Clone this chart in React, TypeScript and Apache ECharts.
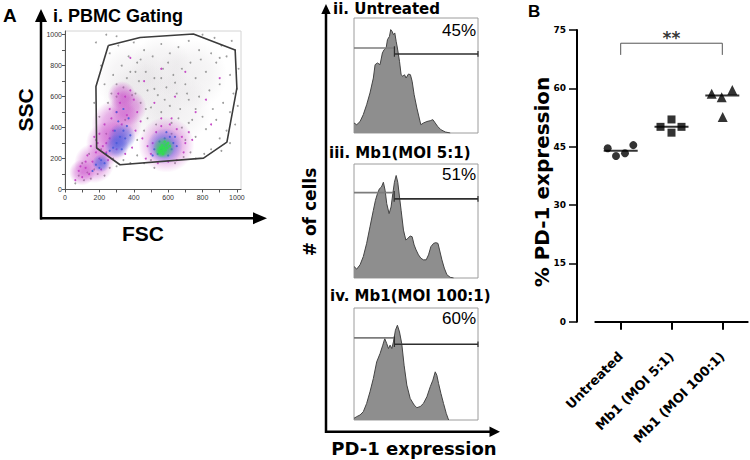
import React, { useEffect, useRef } from 'react';
import * as echarts from 'echarts';

// ---------- Panel A (i): FSC / SSC dot plot ----------
const fscTicks = [0, 100, 200, 300, 400, 500, 600, 700, 800, 900, 1000];
const fscLabels = [0, 200, 400, 600, 800, 1000];
const gateVertices = [
  [252, 930], [437, 982], [747, 1005], [990, 902], [1000, 655], [942, 306],
  [806, 203], [320, 160], [184, 268], [180, 666], [252, 930],
];
const grayEvents = [
  [60, 40], [80, 90], [110, 60], [130, 110], [150, 70], [170, 130], [100, 170], [140, 230], [190, 100], [230, 90],
  [260, 140], [280, 200], [210, 260], [180, 320], [240, 360], [300, 150], [340, 190], [380, 170], [420, 220], [460, 170],
  [500, 190], [520, 140], [640, 170], [690, 210], [730, 240], [760, 200], [810, 230], [850, 260], [900, 330], [940, 380],
  [700, 320], [760, 340], [820, 390], [880, 450], [960, 500], [420, 320], [460, 380], [480, 460], [530, 420], [620, 430],
  [680, 400], [740, 450], [800, 470], [860, 520], [920, 560], [980, 620], [250, 560], [300, 600], [340, 660], [390, 610],
  [440, 560], [500, 530], [560, 500], [610, 540], [670, 520], [720, 580], [780, 600], [840, 640], [900, 680], [960, 740],
  [230, 680], [280, 740], [330, 800], [380, 760], [430, 700], [480, 640], [540, 610], [590, 660], [650, 620], [700, 680],
  [760, 720], [820, 760], [880, 820], [940, 860], [990, 900], [260, 880], [310, 930], [370, 860], [420, 820], [470, 760],
  [520, 720], [570, 780], [630, 740], [680, 780], [730, 820], [790, 840], [850, 880], [910, 930], [970, 960], [300, 990],
  [400, 950], [460, 900], [510, 860], [560, 940], [610, 880], [660, 920], [720, 960], [800, 1000], [870, 980], [1010, 780],
  [1000, 650], [1005, 540], [990, 420], [960, 300], [910, 250], [200, 470], [170, 560], [210, 800], [180, 950], [240, 1000],
  [350, 450], [410, 620], [470, 520], [520, 650], [580, 580], [640, 690], [710, 620], [760, 520], [660, 460], [360, 720],
  [300, 680], [440, 840], [600, 820], [780, 900], [900, 850], [560, 720], [620, 360], [720, 430], [270, 620], [410, 760],
];
const magentaEvents = [
  [60, 60], [80, 120], [100, 80], [120, 140], [140, 100], [160, 180], [130, 220], [180, 240], [150, 280], [200, 200],
  [220, 280], [240, 240], [260, 330], [200, 360], [230, 420], [270, 460], [300, 500], [320, 560], [350, 600], [380, 640],
  [400, 580], [360, 480], [420, 500], [440, 440], [410, 380], [450, 330], [390, 270], [350, 230], [300, 260], [280, 380],
  [330, 420], [260, 520], [310, 620], [240, 300], [190, 300], [170, 340], [120, 180], [90, 150], [210, 130], [250, 190],
  [500, 230], [510, 300], [530, 370], [560, 410], [610, 420], [650, 390], [680, 340], [700, 300], [690, 240], [650, 190],
  [600, 180], [540, 170], [480, 280], [720, 370], [620, 460], [470, 200], [560, 460], [740, 320],
  [520, 560], [640, 600], [760, 500], [460, 700], [820, 580], [560, 780], [700, 760], [900, 720], [380, 850], [850, 420],
];
const blueEvents = [
  [300, 300], [320, 340], [340, 380], [360, 410], [310, 440], [350, 330], [280, 270], [330, 260], [370, 460], [290, 380],
  [240, 230], [210, 190], [180, 160], [200, 140], [230, 170], [260, 250], [380, 350], [300, 500], [340, 520], [160, 120],
  [540, 230], [560, 260], [580, 330], [610, 340], [630, 300], [600, 220], [550, 310], [620, 260], [520, 260], [590, 370],
  [640, 340], [510, 220], [650, 280],
];
const greenEvents = [
  [560, 250], [575, 270], [590, 290], [570, 230], [550, 240], [600, 300], [585, 255], [565, 285], [580, 310], [595, 270],
  [555, 270], [610, 280],
];
// density cores of the populations
const grayCores = [[450, 560], [650, 520], [380, 720], [740, 740], [560, 800]];
const grayCoreSize = [80, 70, 70, 70, 60];
const magentaCores = [[300, 420], [250, 300], [370, 530], [330, 610], [170, 170], [100, 110], [590, 290]];
const magentaCoreSize = [50, 44, 36, 28, 40, 26, 56];
const blueCores = [[330, 340], [300, 280], [210, 170], [580, 280]];
const blueCoreSize = [28, 24, 18, 36];
const greenCores = [[575, 270], [560, 245]];
const greenCoreSize = [22, 12];

// ---------- Panel A (ii-iv): PD-1 histograms ----------
const histTitles = ['ii. Untreated', 'iii. Mb1(MOI 5:1)', 'iv. Mb1(MOI 100:1)'];
const gatePercents = [45, 51, 60];
const untreatedHist = [
  [0, 8.7], [2.2, 7.2], [4.9, 10], [7.5, 16], [10.2, 24.6], [12.9, 34.8], [15.6, 47.8], [17, 59.4], [18.9, 60.9], [21, 59.4],
  [22.9, 69.6], [24.3, 72.5], [25.9, 73.9], [27, 81.2], [28.6, 84], [29.6, 89.9], [30.7, 88.4], [31.8, 85.5], [32.9, 87], [34, 79.7],
  [35, 73.9], [36.7, 62.3], [38, 50.7], [39.4, 49.3], [40.7, 50.7], [42, 47.8], [43.9, 51.3], [45.5, 50.7], [46.9, 44.9], [48.5, 33.3],
  [50.7, 21.7], [52.6, 13], [53.9, 7.2], [56, 8.7], [58.8, 10], [61.5, 10.7], [63.6, 11.6], [65.5, 8.7], [67.4, 5.8], [70, 2.9],
  [73.6, 0.9], [77.6, 0],
];
const moi5Hist = [
  [0, 10.1], [2.2, 7.8], [4.9, 11.6], [7.5, 18.8], [10.2, 30.4], [12.9, 44.9], [15.6, 59.4], [17.3, 68.1], [18.9, 73.9], [20.5, 78.3],
  [22.1, 79.7], [23.7, 84], [25.1, 76.8], [26.4, 65.2], [28.3, 56.5], [29.9, 62.3], [31.3, 73.9], [32.6, 84], [34, 89.9], [35.3, 84],
  [36.7, 71], [38, 59.4], [39.9, 42], [41.8, 33.3], [43.4, 34.8], [45.3, 36.8], [46.9, 36.2], [48.5, 29], [50.1, 24.6], [52, 20.3],
  [53.9, 17.4], [56, 15.9], [58.2, 15.9], [60.1, 20.3], [62, 27.5], [64.2, 30.4], [66, 31], [67.7, 30.4], [69, 24.6], [70.9, 15.9],
  [72.8, 8.7], [74.9, 2.9], [77.6, 0.6], [80.3, 0],
];
const moi100Hist = [
  [0, 1.5], [2.2, 3], [4.9, 4.5], [7.5, 7.4], [10.2, 14.8], [12.9, 25.2], [15.6, 37.1], [18.3, 51.9], [21, 59.3], [23.2, 66.8],
  [24.8, 72.7], [26.4, 68.2], [27.8, 63.8], [29.1, 66.8], [30.5, 63.8], [31.8, 69.7], [33.4, 80.1], [35, 84.6], [36.7, 78.6], [38.5, 68.2],
  [40.4, 48.9], [42.6, 31.2], [45.3, 19.3], [48.5, 13.4], [50.7, 11], [53.4, 12], [56, 14.8], [58.8, 20.8], [61.5, 29.7], [63.6, 35.6],
  [65.5, 43], [66.8, 40], [68.2, 32.6], [70.1, 23.7], [72.2, 14.8], [74.4, 5.9], [76.3, 0],
];
const gateX = [32.6, 32.4, 32.6];
const gateLeftLevel = [73.9, 74.9, 73.3];
const gateRightLevel = [68.7, 69.4, 67.7];

// ---------- Panel B: % PD-1 expression ----------
const categories = ['Untreated', 'Mb1 (MOI 5:1)', 'Mb1 (MOI 100:1)'];
const untreatedPD1 = [44.6, 42.6, 43.3, 45.4];
const moi5PD1 = [50.1, 52.0, 48.6, 50.1];
const moi100PD1 = [58.6, 57.7, 59.6, 52.6];
const bracketBase = 68.6;
const bracketTop = 71.6;
const starLevel = 73.0;
const significance = '**';

// horizontal jitter of the dots (pixels)
const untreatedJitter = [-13, -4.7, 4.3, 12.6];
const moi5Jitter = [-11, 0, 0, 10];
const moi100Jitter = [-10.6, -0.6, 10, 0.4];

const median = (a: number[]) => {
  const s = [...a].sort((x, y) => x - y);
  const m = Math.floor(s.length / 2);
  return s.length % 2 ? s[m] : (s[m - 1] + s[m]) / 2;
};

const DJ = 'DejaVu Sans';
const LS = 'Liberation Sans';

export default function App() {
  const ref = useRef<HTMLDivElement>(null);
  useEffect(() => {
    if (!ref.current) return;
    const chart = echarts.init(ref.current, undefined, { renderer: 'svg' });

    const radial = (rgb: string, a: number) =>
      new echarts.graphic.RadialGradient(0.5, 0.5, 0.5, [
        { offset: 0, color: `rgba(${rgb},${a})` },
        { offset: 0.55, color: `rgba(${rgb},${a * 0.65})` },
        { offset: 1, color: `rgba(${rgb},0)` },
      ]);

    const histData = [untreatedHist, moi5Hist, moi100Hist];
    const histTop = [18, 164, 308];
    const histHeight = [115, 114, 112];

    const grids: any[] = [
      { left: 65, top: 31, width: 176, height: 158.5, show: true, borderColor: '#d4d4d4', borderWidth: 1 },
      ...histTop.map((t, i) => ({
        left: 354, top: t, width: 124, height: histHeight[i], show: true, borderColor: '#9c9c9c', borderWidth: 1,
      })),
      { left: 595.3, top: 30, width: 152.4, height: 291.7, show: false },
    ];

    const flowAxis = (isX: boolean) => ({
      gridIndex: 0, type: 'value', min: 0, max: 1024,
      axisLine: { show: true, lineStyle: { color: '#555', width: 1 } },
      axisTick: { show: true, customValues: fscTicks, length: 3, lineStyle: { color: '#555', width: 1 } },
      axisLabel: {
        customValues: fscLabels, fontSize: 7, color: '#333', fontFamily: LS, margin: isX ? 4 : 3,
        formatter: (v: number) => String(v),
      },
      splitLine: { show: false },
    });

    const xAxes: any[] = [
      flowAxis(true),
      ...[1, 2, 3].map((g) => ({ gridIndex: g, type: 'value', min: 0, max: 100, show: false, splitLine: { show: false } })),
      {
        gridIndex: 4, type: 'category', data: categories, offset: 25.3,
        axisLine: { show: true, lineStyle: { color: '#000', width: 2 } },
        axisTick: { show: true, alignWithLabel: true, length: 8, lineStyle: { color: '#000', width: 2 } },
        axisLabel: { rotate: 45, interval: 0, fontSize: 13, fontWeight: 'bold', fontFamily: DJ, color: '#000', margin: 7 },
        splitLine: { show: false },
      },
    ];
    const yAxes: any[] = [
      flowAxis(false),
      ...[1, 2, 3].map((g) => ({ gridIndex: g, type: 'value', min: 0, max: 100, show: false, splitLine: { show: false } })),
      {
        gridIndex: 4, type: 'value', min: 0, max: 75, interval: 15, offset: 18.3,
        axisLine: { show: true, lineStyle: { color: '#000', width: 2 } },
        axisTick: { show: true, length: 8, lineStyle: { color: '#000', width: 1.5 } },
        axisLabel: { fontSize: 9, fontWeight: 'bold', fontFamily: DJ, color: '#000', margin: 11 },
        splitLine: { show: false },
      },
    ];

    const series: any[] = [];
    // --- dot plot
    const cores = (pts: number[][], sizes: number[], rgb: string, a: number) => ({
      type: 'scatter', xAxisIndex: 0, yAxisIndex: 0, silent: true,
      data: pts.map((p, i) => ({ value: p, symbolSize: sizes[i], itemStyle: { color: radial(rgb, a) } })),
    });
    series.push(cores(grayCores, grayCoreSize, '150,140,150', 0.16));
    series.push({
      type: 'scatter', xAxisIndex: 0, yAxisIndex: 0, symbolSize: 1.9, silent: true,
      itemStyle: { color: '#8c8c8c', opacity: 0.85 }, data: grayEvents,
    });
    series.push(cores(magentaCores, magentaCoreSize, '195,55,195', 0.7));
    series.push({
      type: 'scatter', xAxisIndex: 0, yAxisIndex: 0, symbolSize: 2, silent: true,
      itemStyle: { color: '#c23cc2', opacity: 0.9 }, data: magentaEvents,
    });
    series.push(cores(blueCores, blueCoreSize, '70,95,225', 0.85));
    series.push({
      type: 'scatter', xAxisIndex: 0, yAxisIndex: 0, symbolSize: 2.2, silent: true,
      itemStyle: { color: '#4a5ad8', opacity: 0.9 }, data: blueEvents,
    });
    series.push(cores(greenCores, greenCoreSize, '40,225,70', 1));
    series.push({
      type: 'scatter', xAxisIndex: 0, yAxisIndex: 0, symbolSize: 2.6, silent: true,
      itemStyle: { color: '#2ee04a' }, data: greenEvents,
    });
    series.push({
      type: 'line', xAxisIndex: 0, yAxisIndex: 0, data: gateVertices, symbol: 'none', silent: true,
      lineStyle: { color: '#3c3c3c', width: 1.6 }, z: 5,
    });

    // --- histograms
    histData.forEach((d, i) => {
      const g = i + 1;
      series.push({
        type: 'line', xAxisIndex: g, yAxisIndex: g, data: d, symbol: 'none', silent: true,
        lineStyle: { color: '#444', width: 1 }, areaStyle: { color: '#8e8e8e', opacity: 1 },
      });
      series.push({
        type: 'line', xAxisIndex: g, yAxisIndex: g, symbol: 'none', silent: true, z: 4,
        data: [[0, gateLeftLevel[i]], [gateX[i], gateLeftLevel[i]]],
        lineStyle: { color: '#7c7c7c', width: 1.6 },
      });
      series.push({
        type: 'line', xAxisIndex: g, yAxisIndex: g, symbol: 'none', silent: true, z: 4,
        data: [[gateX[i], gateRightLevel[i]], [100, gateRightLevel[i]]],
        lineStyle: { color: '#2e2e2e', width: 1.6 },
      });
      series.push({
        type: 'line', xAxisIndex: g, yAxisIndex: g, symbol: 'none', silent: true, z: 4,
        data: [[gateX[i], gateRightLevel[i] - 2.5], [gateX[i], gateLeftLevel[i] + 1.5]],
        lineStyle: { color: '#2e2e2e', width: 1.2 },
      });
      series.push({
        type: 'line', xAxisIndex: g, yAxisIndex: g, symbol: 'none', silent: true, z: 4,
        data: [[100, gateRightLevel[i] - 2.5], [100, gateRightLevel[i] + 2.5]],
        lineStyle: { color: '#2e2e2e', width: 1.2 },
      });
    });

    // --- panel B
    const groups = [untreatedPD1, moi5PD1, moi100PD1];
    const jitters = [untreatedJitter, moi5Jitter, moi100Jitter];
    const symbols = ['circle', 'rect', 'triangle'];
    const sizes = [8, 8, 10];
    groups.forEach((vals, gi) => {
      series.push({
        type: 'scatter', xAxisIndex: 4, yAxisIndex: 4, symbol: symbols[gi], symbolSize: sizes[gi],
        itemStyle: { color: '#000' }, z: 3,
        data: vals.map((v, i) => ({ value: [categories[gi], v], symbolOffset: [jitters[gi][i], 0] })),
      });
    });
    series.push({
      type: 'scatter', xAxisIndex: 4, yAxisIndex: 4, symbol: 'rect', symbolSize: [34, 2], z: 2,
      itemStyle: { color: '#000' },
      data: groups.map((vals, gi) => [categories[gi], median(vals)]),
    });
    series.push({
      type: 'line', xAxisIndex: 4, yAxisIndex: 4, symbol: 'none',
      lineStyle: { color: '#555', width: 1 },
      data: [[categories[0], bracketBase], [categories[0], bracketTop], [categories[2], bracketTop], [categories[2], bracketBase]],
    });
    series.push({
      type: 'scatter', xAxisIndex: 4, yAxisIndex: 4, symbolSize: 1, itemStyle: { color: 'rgba(0,0,0,0)' },
      data: [[categories[1], starLevel]],
      label: { show: true, position: 'inside', formatter: significance, fontSize: 17, fontWeight: 'bold', fontFamily: DJ, color: '#000' },
    });

    const txt = (text: string, x: number, y: number, size: number, family: string, opts: any = {}) => ({
      type: 'text', x, y, rotation: opts.rotation || 0, silent: true,
      style: {
        text, fontSize: size, fontFamily: family, fontWeight: opts.weight || 'bold', fill: '#000',
        textAlign: opts.align || 'left', textVerticalAlign: 'middle',
      },
    });
    const blk = { stroke: '#000', lineWidth: 2.5 };

    const graphic: any[] = [
      // panel A, dot plot axes
      { type: 'line', shape: { x1: 41, y1: 219.5, x2: 41, y2: 20 }, style: blk, silent: true },
      { type: 'polygon', shape: { points: [[35, 22], [47, 22], [41, 9]] }, style: { fill: '#000' }, silent: true },
      { type: 'line', shape: { x1: 40, y1: 218.3, x2: 256, y2: 218.3 }, style: blk, silent: true },
      { type: 'polygon', shape: { points: [[253, 212.3], [253, 224.3], [267, 218.3]] }, style: { fill: '#000' }, silent: true },
      // histogram axes
      { type: 'line', shape: { x1: 326, y1: 433, x2: 326, y2: 12 }, style: blk, silent: true },
      { type: 'polygon', shape: { points: [[321.3, 14], [330.7, 14], [326, 4]] }, style: { fill: '#000' }, silent: true },
      { type: 'line', shape: { x1: 325, y1: 431.7, x2: 492, y2: 431.7 }, style: blk, silent: true },
      { type: 'polygon', shape: { points: [[489.5, 426.5], [489.5, 436.9], [500, 431.7]] }, style: { fill: '#000' }, silent: true },
      // texts
      txt('A', 3, 15.5, 19, LS),
      txt('B', 528, 11.5, 17, LS),
      txt('i. PBMC Gating', 53, 15.5, 18, LS),
      txt('SSC', 25.8, 110, 21, LS, { rotation: Math.PI / 2, align: 'center' }),
      txt('FSC', 143, 233, 21, LS, { align: 'center' }),
      txt('# of cells', 310, 212, 17, DJ, { rotation: Math.PI / 2, align: 'center' }),
      txt('PD-1 expression', 414, 448.5, 18, DJ, { align: 'center' }),
      txt('% PD-1 expression', 542, 182, 20, DJ, { rotation: Math.PI / 2, align: 'center' }),
      ...histTitles.map((t, i) => txt(t, [333, 329, 330][i], [8.5, 153, 296][i], 15, DJ)),
      ...gatePercents.map((p, i) => txt(`${p}%`, 476, [30, 174, 318][i], 17, LS, { align: 'right', weight: 'normal' })),
    ];

    chart.setOption({
      animation: false,
      textStyle: { fontFamily: LS },
      grid: grids,
      xAxis: xAxes,
      yAxis: yAxes,
      series,
      graphic,
    });
    return () => chart.dispose();
  }, []);

  return <div ref={ref} style={{ position: 'fixed', left: 0, top: 0, width: 750, height: 460, background: '#fff' }} />;
}
